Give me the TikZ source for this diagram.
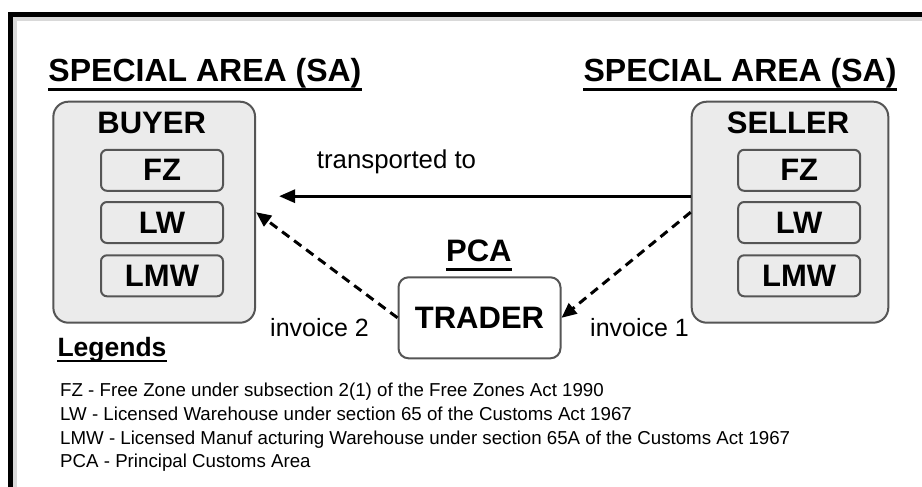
\documentclass[tikz,border=0pt]{standalone}
\usepackage{fontspec}
\setmainfont{Liberation Sans}
\usetikzlibrary{arrows.meta}
\definecolor{boxfill}{HTML}{EBEBEB}
\definecolor{boxline}{HTML}{555555}
\definecolor{frameshade}{HTML}{D9D9D9}
\newcommand\titlefont{\fontsize{32}{33}\selectfont\bfseries}
\newcommand\lblfont{\fontsize{31}{32}\selectfont\bfseries}
\newcommand\midfont{\fontsize{25}{26}\selectfont}
\newcommand\headfont{\fontsize{26.5}{27}\selectfont\bfseries}
\newcommand\lgdfont{\fontsize{18.7}{19}\selectfont}
\begin{document}
\begin{tikzpicture}[x=1pt,y=-1pt,
  area/.style={draw=boxline, fill=boxfill, line width=2pt, rounded corners=15pt, inner sep=0pt},
  slot/.style={draw=boxline, fill=boxfill, line width=2pt, rounded corners=6pt,
    minimum width=122pt, minimum height=41pt, inner sep=0pt, font=\lblfont},
  traderbox/.style={draw=boxline, fill=white, line width=2pt, rounded corners=10pt,
    minimum width=162pt, minimum height=81pt, inner sep=0pt, font=\lblfont},
  plain/.style={inner sep=0pt},
  uline/.style={line width=3pt},
  flow/.style={line width=3pt, -{Triangle[length=16pt,width=13pt]}},
  invoiceflow/.style={line width=3pt, dash pattern=on 9pt off 6pt, -{Triangle[length=15pt,width=13pt]}}]

\useasboundingbox (0,0) rectangle (922,487);
\fill[white] (0,0) rectangle (922,487);

% outer frame with its light inner edge
\draw[frameshade, line width=4pt] (14.8,490) -- (14.8,18.8) -- (925,18.8);
\draw[black, line width=4.5pt] (10.5,490) -- (10.5,14.5) -- (925,14.5);

% area headings
\node[plain, anchor=base west, font=\titlefont] (saleft) at (48.3,81.7) {SPECIAL AREA (SA)};
\node[plain, anchor=base east, font=\titlefont] (saright) at (896.7,81.7) {SPECIAL AREA (SA)};
\draw[uline] ([yshift=-8.3pt]saleft.base west) -- ([yshift=-8.3pt]saleft.base east);
\draw[uline] ([yshift=-8.3pt]saright.base west) -- ([yshift=-8.3pt]saright.base east);

% buyer side
\node[area, minimum width=201.7pt, minimum height=221pt] (buyer) at (154.2,212.2) {};
\node[plain, anchor=base, font=\lblfont] (buyertitle) at (151.7,133.3) {BUYER};
\node[slot] (bfz) at (162,170.3) {FZ};
\node[slot] (blw) at (162,222.5) {LW};
\node[slot] (blmw) at (162,275.8) {LMW};

% seller side
\node[area, minimum width=196.6pt, minimum height=221pt] (seller) at (790,212.2) {};
\node[plain, anchor=base, font=\lblfont] (sellertitle) at (788,133.3) {SELLER};
\node[slot] (sfz) at (799.2,170.3) {FZ};
\node[slot] (slw) at (799.2,222.5) {LW};
\node[slot] (slmw) at (799.2,275.8) {LMW};

% trader in the principal customs area
\node[plain, anchor=base, font=\lblfont] (pca) at (478.9,261.7) {PCA};
\draw[uline] ([yshift=-7.6pt]pca.base west) -- ([yshift=-7.6pt]pca.base east);
\node[traderbox] (trader) at (479.5,317.8) {TRADER};

% flows of goods and invoices
\draw[flow] ([yshift=16pt]seller.west) -- ([yshift=16pt,xshift=23pt]buyer.east);
\draw[invoiceflow] (seller.west) -- (trader.east);
\draw[invoiceflow] (trader.west) -- (buyer.east);

\node[plain, anchor=base west, font=\midfont] (transp) at (316.7,168.3) {\fontsize{25.8}{26}\selectfont transported to};
\node[plain, anchor=base west, font=\midfont] (inv2) at (270,336.7) {invoice 2};
\node[plain, anchor=base west, font=\midfont] (inv1) at (590,336.7) {invoice 1};

% legend
\node[plain, anchor=base west, font=\headfont] (lgdhead) at (57.3,356) {Legends};
\draw[line width=2.5pt] ([yshift=-5pt]lgdhead.base west) -- ([yshift=-5pt]lgdhead.base east);
\node[plain, anchor=base west, font=\lgdfont] (lgdfz) at (60,396) {FZ - Free Zone under subsection 2(1) of the Free Zones Act 1990};
\node[plain, anchor=base west, font=\lgdfont] (lgdlw) at (60,420) {LW - Licensed Warehouse under section 65 of the Customs Act 1967};
\node[plain, anchor=base west, font=\lgdfont] (lgdlmw) at (60,444) {LMW - Licensed Manuf acturing Warehouse under section 65A of the Customs Act 1967};
\node[plain, anchor=base west, font=\lgdfont] (lgdpca) at (60,467.7) {PCA - Principal Customs Area};
\end{tikzpicture}
\end{document}
